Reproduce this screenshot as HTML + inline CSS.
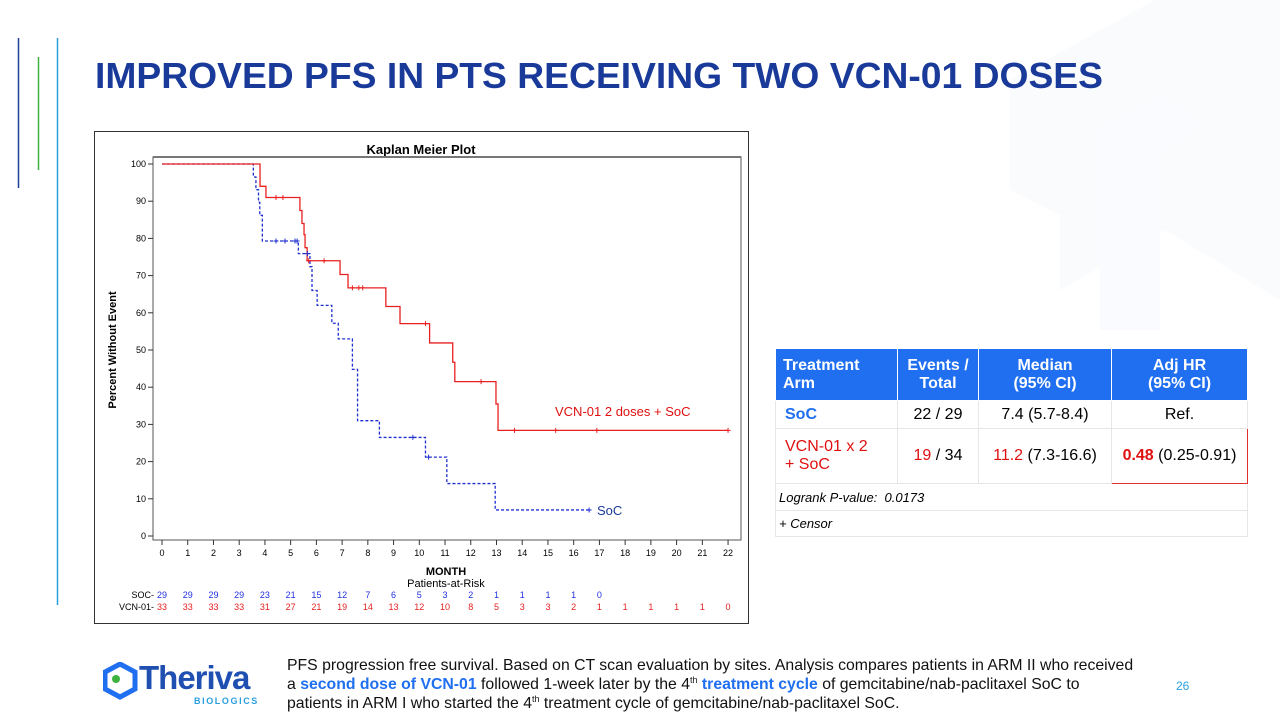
<!DOCTYPE html>
<html><head><meta charset="utf-8">
<style>
body{margin:0;width:1280px;height:720px;overflow:hidden;background:#fff;font-family:"Liberation Sans",Arial,sans-serif;position:relative}
.abs{position:absolute}
table{border-collapse:collapse}
td{border:1px solid #e6e6e6;font-size:16px;text-align:center;padding:0}
sup{font-size:9px;line-height:0;vertical-align:6px}
</style></head><body>
<svg class="abs" style="left:0;top:0" width="1280" height="720">
<polygon points="1010,80 1155,0 1280,0 1280,300 1165,230 1060,290 1060,215 1010,190" fill="#f9fbfd"/>
<polygon points="1100,130 1160,95 1205,125 1160,150 1160,330 1100,330" fill="#fafbfe"/>
<line x1="18.5" y1="38" x2="18.5" y2="188" stroke="#1d3f9a" stroke-width="1.5"/>
<line x1="38.5" y1="57" x2="38.5" y2="170" stroke="#3db33d" stroke-width="1.5"/>
<line x1="57.5" y1="38" x2="57.5" y2="605" stroke="#2a9fe0" stroke-width="1.5"/>
<text x="95" y="88" font-size="36" font-weight="bold" fill="#1a3a9a" textLength="1008" lengthAdjust="spacingAndGlyphs">IMPROVED PFS IN PTS RECEIVING TWO VCN-01 DOSES</text>
</svg>

<svg id="km" class="abs" style="left:0;top:0" width="1280" height="720">
<rect x="94.5" y="131.5" width="654" height="492" fill="#fff" stroke="#333" stroke-width="1"/>
<text x="421" y="154" font-size="13" font-weight="bold" text-anchor="middle">Kaplan Meier Plot</text>
<rect x="153" y="157" width="588" height="383" fill="none" stroke="#555" stroke-width="1"/>
<line x1="153" y1="157" x2="741" y2="157" stroke="#777" stroke-width="2"/>
<text transform="translate(116,350) rotate(-90)" font-size="11" font-weight="bold" text-anchor="middle">Percent Without Event</text>
<text x="446" y="575" font-size="11" font-weight="bold" text-anchor="middle">MONTH</text>
<text x="446" y="587" font-size="11" text-anchor="middle">Patients-at-Risk</text>
<text x="154" y="598" font-size="9" text-anchor="end">SOC-</text>
<text x="154" y="610" font-size="9" text-anchor="end">VCN-01-</text>
<text x="555" y="416" font-size="13" fill="#e01010">VCN-01 2 doses + SoC</text>
<text x="597" y="515" font-size="13" fill="#1a3a9a">SoC</text>
</svg>

<table class="abs" style="left:775px;top:348px;width:473px">
<tr style="height:52px;background:#1f6ff0;color:#fff;font-weight:bold;font-size:16px">
<td style="width:114px;text-align:left;padding-left:7px;color:#fff;font-weight:bold;border-color:#fff">Treatment<br>Arm</td>
<td style="width:80px;color:#fff;font-weight:bold;border-color:#fff">Events /<br>Total</td>
<td style="width:132px;color:#fff;font-weight:bold;border-color:#fff">Median<br>(95% CI)</td>
<td style="color:#fff;font-weight:bold;border-color:#fff">Adj HR<br>(95% CI)</td></tr>
<tr style="height:28px">
<td style="text-align:left;padding-left:9px;color:#1f6ff0;font-weight:bold">SoC</td><td>22 / 29</td><td>7.4 (5.7-8.4)</td><td>Ref.</td></tr>
<tr style="height:55px">
<td style="text-align:left;padding-left:9px;color:#e01010">VCN-01 x 2<br>+ SoC</td><td><span style="color:#e01010">19</span> / 34</td><td><span style="color:#e01010">11.2</span> (7.3-16.6)</td><td style="border:1px solid #e03030"><b style="color:#e01010">0.48</b> (0.25-0.91)</td></tr>
<tr style="height:27px"><td colspan="4" style="text-align:left;padding-left:3px;font-style:italic;font-size:13px">Logrank P-value:&nbsp; 0.0173</td></tr>
<tr style="height:26px"><td colspan="4" style="text-align:left;padding-left:3px;font-style:italic;font-size:13px">+ Censor</td></tr>
</table>

<div class="abs" style="left:103px;top:662px">
<svg width="38" height="38" style="position:absolute;left:0;top:0"><polygon points="17,2 32,10 32,27 17,35 2,27 2,10" fill="none" stroke="#1f6ff0" stroke-width="5"/><circle cx="13" cy="17" r="4" fill="#3db33d"/></svg>
<div style="position:absolute;left:36px;top:-3px;font-size:33px;font-weight:bold;color:#1f4fb0;letter-spacing:-1px">Theriva</div>
<div style="position:absolute;left:91px;top:34px;font-size:9px;font-weight:bold;color:#2a9fe0;letter-spacing:1.6px">BIOLOGICS</div>
</div>
<div class="abs" style="left:287px;top:656px;font-size:15.8px;line-height:19px;color:#111;width:900px;white-space:nowrap">PFS progression free survival. Based on CT scan evaluation by sites. Analysis compares patients in ARM II who received<br>a <b style="color:#1f6ff0">second dose of VCN-01</b> followed 1-week later by the 4<sup>th</sup> <b style="color:#1f6ff0">treatment cycle</b> of gemcitabine/nab-paclitaxel SoC to<br>patients in ARM I who started the 4<sup>th</sup> treatment cycle of gemcitabine/nab-paclitaxel SoC.</div>
<div class="abs" style="left:1176px;top:679px;font-size:12px;color:#2a9fe0">26</div>

<script>
const xTicks=[0,1,2,3,4,5,6,7,8,9,10,11,12,13,14,15,16,17,18,19,20,21,22];
const yTicks=[0,10,20,30,40,50,60,70,80,90,100];
const vcnTimes=[0,3.81,4.04,5.36,5.44,5.52,5.56,5.64,6.92,7.23,8.7,9.25,10.4,11.3,11.38,12.98,13.06,22];
const vcnValues=[100,94,91,87.5,84,81,77.5,74,70.3,66.7,61.7,57.1,51.9,46.7,41.5,35.5,28.4,28.4];
const vcnCensorT=[4.43,4.7,5.7,6.3,7.4,7.65,7.8,10.24,12.4,13.7,15.3,16.9,22];
const socTimes=[0,3.55,3.65,3.75,3.8,3.9,5.3,5.75,5.83,6.03,6.6,6.85,7.4,7.6,8.45,10.24,11.07,12.95,16.6];
const socValues=[100,96.5,93.1,89.7,86.2,79.3,75.9,72.4,66,62,57.2,53,44.8,31,26.5,21.2,14.1,7,7];
const socCensorT=[4.43,4.78,5.17,5.25,5.65,9.75,10.36,16.6];
const socRisk=[29,29,29,29,23,21,15,12,7,6,5,3,2,1,1,1,1,0];
const vcnRisk=[33,33,33,33,31,27,21,19,14,13,12,10,8,5,3,3,2,1,1,1,1,1,0];

const NS='http://www.w3.org/2000/svg';
const svg=document.getElementById('km');
const X=t=>162+t*25.73;
const Y=v=>536-v*3.72;
function mk(tag,attrs,parent){const e=document.createElementNS(NS,tag);for(const k in attrs)e.setAttribute(k,attrs[k]);(parent||svg).appendChild(e);return e;}
function valAt(ts,vs,t){let v=vs[0];for(let i=0;i<ts.length;i++){if(ts[i]<=t)v=vs[i];}return v;}

xTicks.forEach(t=>{
  const l=mk('line',{x1:X(t),x2:X(t),y1:540,y2:545,stroke:'#333'});
  
  
  const tx=mk('text',{x:X(t),y:556,'font-size':9,'text-anchor':'middle'});
  tx.textContent=t;
  
  
});
yTicks.forEach(v=>{
  const l=mk('line',{x1:148,x2:153,y1:Y(v),y2:Y(v),stroke:'#333'});
  
  
  const tx=mk('text',{x:146,y:Y(v)+3,'font-size':9,'text-anchor':'end'});
  tx.textContent=v;
  
  
});
function stepPath(ts,vs){let d='M'+X(ts[0])+','+Y(vs[0]);for(let i=1;i<ts.length;i++){d+=' H'+X(ts[i])+' V'+Y(vs[i]);}return d;}
const soc=mk('path',{d:stepPath(socTimes,socValues),fill:'none',stroke:'#2030d0','stroke-width':1.3,'stroke-dasharray':'3,2'});


const vcn=mk('path',{d:stepPath(vcnTimes,vcnValues),fill:'none',stroke:'#e82020','stroke-width':1.3});


function censor(ts,vsT,vsV,col,name){ts.forEach(t=>{const x=X(t),y=Y(valAt(vsT,vsV,t));
  const g=mk('path',{d:`M${x-2.5},${y} H${x+2.5} M${x},${y-2.5} V${y+2.5}`,stroke:col,'stroke-width':1});
  
  });}
censor(socCensorT,socTimes,socValues,'#2030d0','soc-censor-mark');
censor(vcnCensorT,vcnTimes,vcnValues,'#e82020','vcn-censor-mark');
socRisk.forEach((n,i)=>{const tx=mk('text',{x:X(xTicks[i]),y:598,'font-size':9,'text-anchor':'middle',fill:'#2030e0'});tx.textContent=n;
  
  });
vcnRisk.forEach((n,i)=>{const tx=mk('text',{x:X(xTicks[i]),y:610,'font-size':9,'text-anchor':'middle',fill:'#e82020'});tx.textContent=n;
  
  });
</script>
</body></html>
